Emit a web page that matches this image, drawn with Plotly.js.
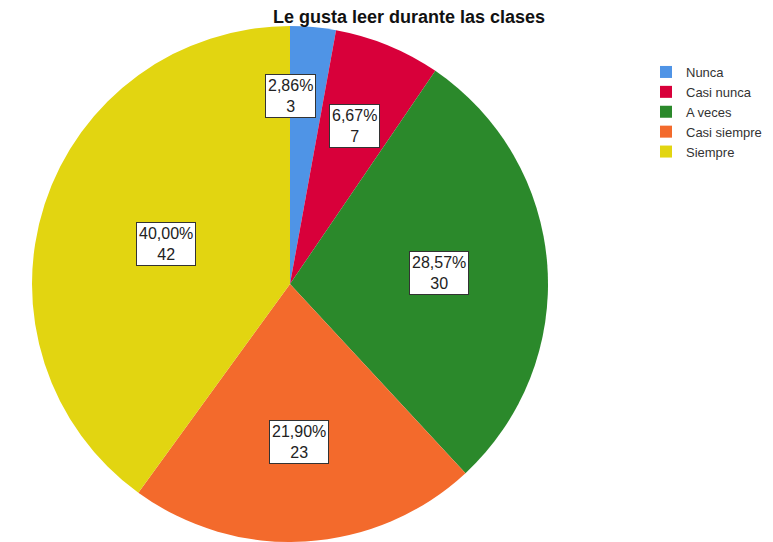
<!DOCTYPE html>
<html>
<head>
<meta charset="utf-8">
<script src="https://cdn.plot.ly/plotly-3.0.1.min.js"></script>
<style>html,body{margin:0;padding:0;background:#fff;}</style>
</head>
<body>
<div id="chart" style="width:773px;height:542px;"></div>
<script>
const categories = ["Nunca", "Casi nunca", "A veces", "Casi siempre", "Siempre"];
const counts = [3, 7, 30, 23, 42];
const colors = ["#4F94E6", "#D8003A", "#2B892B", "#F36A2C", "#E2D511"];
const chartTitle = "Le gusta leer durante las clases";

const W = 773, H = 542;
const cx = 290, cy = 284, R = 258;
const total = counts.reduce((a, b) => a + b, 0);

// label positions: centroid of each sector, with a simple overlap nudge
const boxW = 54, boxH = 44;
const labels = [];
let cum = 0;
counts.forEach((v, i) => {
  const start = cum / total * 2 * Math.PI;
  const half = v / total * Math.PI;
  cum += v;
  const mid = start + half;
  const d = 2 * R * Math.sin(half) / (3 * half);
  labels.push({start: start, mid: mid, d: d, v: v,
    px: cx + Math.sin(mid) * d, py: cy - Math.cos(mid) * d});
});
for (let i = 0; i < labels.length - 1; i++) {
  const a = labels[i], b = labels[i + 1];
  if (Math.abs(a.px - b.px) < boxW && Math.abs(a.py - b.py) < boxH) {
    const dd = R * 0.73;
    a.px = cx + Math.sin(a.start) * dd;
    a.py = cy - Math.cos(a.start) * dd;
  }
}
const annotations = labels.map(l => {
  const pct = (l.v / total * 100).toFixed(2).replace('.', ',') + '%';
  return {
    x: l.px / W, y: 1 - l.py / H, xref: 'paper', yref: 'paper',
    xanchor: 'center', yanchor: 'middle',
    text: pct + '<br>' + l.v, showarrow: false,
    font: {family: 'Liberation Sans, Arial, sans-serif', size: 16, color: '#222'},
    bgcolor: '#ffffff', bordercolor: '#333', borderwidth: 1, borderpad: 2,
    align: 'center'
  };
});

const trace = {
  type: 'pie',
  labels: categories,
  values: counts,
  sort: false,
  direction: 'clockwise',
  rotation: 0,
  textinfo: 'none',
  hoverinfo: 'label+value+percent',
  marker: {colors: colors, line: {width: 0}},
  domain: {x: [(cx - R) / W, (cx + R) / W], y: [(H - cy - R) / H, (H - cy + R) / H]}
};

const layout = {
  width: W, height: H,
  margin: {l: 0, r: 0, t: 0, b: 0},
  paper_bgcolor: '#ffffff',
  font: {family: 'Liberation Sans, Arial, sans-serif', color: '#222'},
  title: {text: '<b>' + chartTitle + '</b>', x: 409 / W, xanchor: 'center', y: 1 - 17 / H, yanchor: 'middle',
    font: {size: 18, color: '#111', family: 'Liberation Sans, Arial, sans-serif'}},
  showlegend: true,
  legend: {x: 646 / W, xanchor: 'left', y: 1 - 57 / H, yanchor: 'top',
    font: {size: 13, color: '#333'}, bgcolor: 'rgba(0,0,0,0)', tracegroupgap: 0},
  annotations: annotations
};

Plotly.newPlot('chart', [trace], layout, {displayModeBar: false, staticPlot: true});
</script>
</body>
</html>
